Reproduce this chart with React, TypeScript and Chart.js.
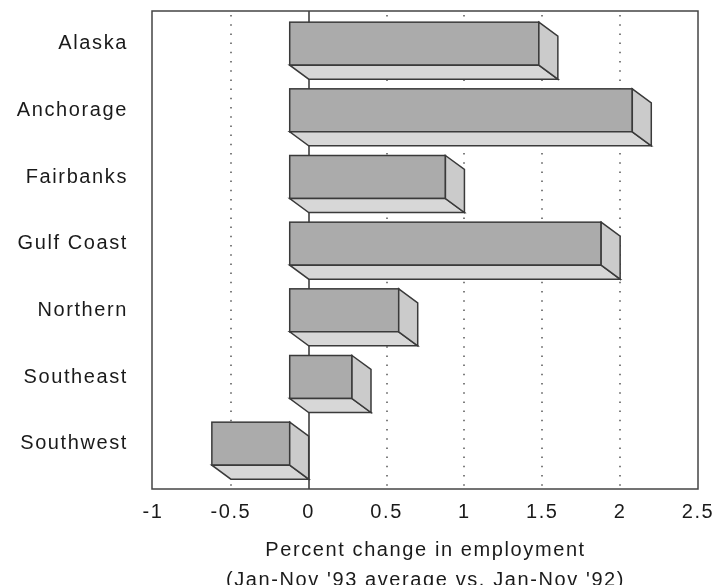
import React, { useEffect, useRef } from 'react';
import { Chart, registerables } from 'chart.js';

Chart.register(...registerables);

const categories = ['Alaska', 'Anchorage', 'Fairbanks', 'Gulf Coast', 'Northern', 'Southeast', 'Southwest'];
const pctChange = [1.6, 2.2, 1.0, 2.0, 0.7, 0.4, -0.5];
const xTickValues = [-1, -0.5, 0, 0.5, 1, 1.5, 2, 2.5];
const xTickLabels = ['-1', '-0.5', '0', '0.5', '1', '1.5', '2', '2.5'];
const dottedGridValues = [-0.5, 0.5, 1, 1.5, 2];
const xTitleLines = ['Percent change in employment', "(Jan-Nov '93 average vs. Jan-Nov '92)"];

const FONT = "'Liberation Sans', Arial, Helvetica, sans-serif";
const TEXT = '#1a1a1a';
const EDGE = '#3a3a3a';
const DEPTH_X = 19;
const DEPTH_Y = 14;

const zeroPadding = (s: any) => {
  s.paddingTop = 0;
  s.paddingBottom = 0;
  s.paddingLeft = 0;
  s.paddingRight = 0;
};

const box3dPlugin = {
  id: 'box3d',
  beforeDraw(chart: any) {
    chart.ctx.letterSpacing = '1.6px';
  },
  beforeDatasetsDraw(chart: any) {
    const ctx = chart.ctx;
    const { top, bottom } = chart.chartArea;
    const xs = chart.scales.x;
    ctx.save();
    ctx.letterSpacing = '0px';
    ctx.strokeStyle = '#555';
    ctx.lineWidth = 1.5;
    ctx.setLineDash([1.5, 7.7]);
    dottedGridValues.forEach((v) => {
      const x = Math.round(xs.getPixelForValue(v));
      ctx.beginPath();
      ctx.moveTo(x, top + 4);
      ctx.lineTo(x, bottom);
      ctx.stroke();
    });
    ctx.setLineDash([]);
    ctx.strokeStyle = '#333';
    const x0 = Math.round(xs.getPixelForValue(0));
    ctx.beginPath();
    ctx.moveTo(x0, top);
    ctx.lineTo(x0, bottom);
    ctx.stroke();
    ctx.restore();
  },
  afterDatasetsDraw(chart: any) {
    const ctx = chart.ctx;
    const meta = chart.getDatasetMeta(0);
    ctx.save();
    ctx.lineWidth = 1.5;
    ctx.strokeStyle = EDGE;
    ctx.lineJoin = 'miter';
    meta.data.forEach((el: any) => {
      const { x, y, base, height } = el.getProps(['x', 'y', 'base', 'height'], true);
      const l = Math.min(x, base);
      const r = Math.max(x, base);
      const t = y - height / 2;
      const b = y + height / 2;
      // back face
      ctx.fillStyle = '#ababab';
      ctx.fillRect(l - DEPTH_X, t, r - l, height);
      ctx.strokeRect(l - DEPTH_X, t, r - l, height);
      // bottom face
      ctx.fillStyle = '#d7d7d7';
      ctx.beginPath();
      ctx.moveTo(l - DEPTH_X, b);
      ctx.lineTo(r - DEPTH_X, b);
      ctx.lineTo(r, b + DEPTH_Y);
      ctx.lineTo(l, b + DEPTH_Y);
      ctx.closePath();
      ctx.fill();
      ctx.stroke();
      // right face
      ctx.fillStyle = '#cbcbcb';
      ctx.beginPath();
      ctx.moveTo(r - DEPTH_X, t);
      ctx.lineTo(r, t + DEPTH_Y);
      ctx.lineTo(r, b + DEPTH_Y);
      ctx.lineTo(r - DEPTH_X, b);
      ctx.closePath();
      ctx.fill();
      ctx.stroke();
    });
    ctx.restore();
  },
  afterDraw(chart: any) {
    const ctx = chart.ctx;
    const { left, right, top, bottom } = chart.chartArea;
    ctx.save();
    ctx.strokeStyle = '#444';
    ctx.lineWidth = 1.5;
    ctx.strokeRect(left - 1, top, right - left + 1, bottom - top);
    ctx.restore();
    ctx.letterSpacing = '0px';
  },
};

export default function App() {
  const canvasRef = useRef<HTMLCanvasElement | null>(null);

  useEffect(() => {
    if (!canvasRef.current) return;
    const chart = new Chart(canvasRef.current, {
      type: 'bar',
      data: {
        labels: categories,
        datasets: [
          {
            data: pctChange.map((v, i) => ({ x: v, y: i })) as any,
            backgroundColor: 'rgba(0,0,0,0)',
            borderWidth: 0,
            barThickness: 43,
          },
        ],
      },
      options: {
        indexAxis: 'y',
        responsive: false,
        animation: false,
        events: [],
        layout: { padding: { top: 11, right: 19, left: 0, bottom: 0 } },
        plugins: { legend: { display: false }, tooltip: { enabled: false } },
        scales: {
          x: {
            type: 'linear',
            position: 'bottom',
            min: -1,
            max: 2.5,
            offset: false,
            afterBuildTicks: (s: any) => {
              s.ticks = xTickValues.map((v) => ({ value: v }));
            },
            afterFit: (s: any) => {
              s.height = 96;
              zeroPadding(s);
            },
            grid: { display: false, drawTicks: false },
            border: { display: false },
            ticks: {
              autoSkip: false,
              maxRotation: 0,
              padding: 11,
              color: TEXT,
              font: { family: FONT, size: 20 },
              callback: (v: any) => xTickLabels[xTickValues.indexOf(Number(v))] ?? '',
            },
            title: {
              display: true,
              text: xTitleLines,
              color: TEXT,
              font: { family: FONT, size: 20, lineHeight: 1.5 },
              padding: { top: 0, bottom: -10 },
            },
          },
          y: {
            type: 'linear',
            reverse: true,
            offset: false,
            min: -0.49,
            max: 6.68,
            afterBuildTicks: (s: any) => {
              s.ticks = categories.map((_, i) => ({ value: i }));
            },
            afterFit: (s: any) => {
              s.width = 153;
              zeroPadding(s);
            },
            grid: { display: false, drawTicks: false, offset: false },
            border: { display: false },
            ticks: {
              autoSkip: false,
              padding: 25,
              color: TEXT,
              font: { family: FONT, size: 20 },
              callback: (v: any) => categories[Number(v)] ?? '',
            },
          },
        },
      },
      plugins: [box3dPlugin],
    });
    return () => chart.destroy();
  }, []);

  return (
    <canvas
      ref={canvasRef}
      width={717}
      height={585}
      style={{ position: 'fixed', left: 0, top: 0, display: 'block', background: '#fff' }}
    />
  );
}
